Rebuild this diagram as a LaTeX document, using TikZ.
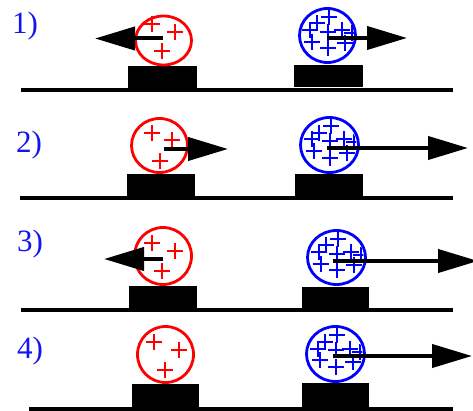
\documentclass[tikz,border=0pt]{standalone}
\usepackage{fontspec}
\setmainfont{Liberation Serif}
\usetikzlibrary{arrows.meta,shapes.geometric}
\definecolor{lblblue}{RGB}{20,20,240}
\tikzset{
  lbl/.style={text=lblblue, font=\fontsize{31}{31}\selectfont, inner sep=0pt},
  posball/.style={draw=red, line width=2.8pt, ellipse, inner sep=0pt},
  negball/.style={draw=blue, line width=2.8pt, ellipse, inner sep=0pt},
  stand/.style={fill=black, draw=none, rectangle, inner sep=0pt},
  ground/.style={line width=3.5pt},
  push/.style={line width=4pt, -{Triangle[length=40pt,width=23pt]}},
  rplus/.pic={\draw[red, line width=2pt] (-8,0)--(8,0) (0,-8)--(0,8);},
  bcharges/.pic={
    \begin{scope}
      \clip (0,0) circle (27);
      \foreach \a/\b in {1.8/-18.8, -10.8/-12.2, -17.5/-5.5, 14.2/-5.5, 0.8/-3.8, -15.8/6.2, 0.8/12.8, 17.5/7.8, 24.5/-2.5}
        \draw[blue, line width=2pt] (\a-8,\b)--(\a+8,\b) (\a,\b-8)--(\a,\b+8);
    \end{scope}
  }
}
\begin{document}
\begin{tikzpicture}[x=1pt,y=-1pt]
\useasboundingbox (0,0) rectangle (473,411);

% ---------- labels ----------
\node[lbl] (L1) at (25,26) {1)};
\node[lbl] (L2) at (29,145) {2)};
\node[lbl] (L3) at (30,244) {3)};
\node[lbl] (L4) at (30,351) {4)};

% ---------- ground lines ----------
\coordinate (g1a) at (21,90);  \coordinate (g1b) at (453,90);
\coordinate (g2a) at (20,198); \coordinate (g2b) at (453,198);
\coordinate (g3a) at (21,310); \coordinate (g3b) at (453,310);
\coordinate (g4a) at (29,409); \coordinate (g4b) at (453,409);
\draw[ground] (g1a) -- (g1b);
\draw[ground] (g2a) -- (g2b);
\draw[ground] (g3a) -- (g3b);
\draw[ground] (g4a) -- (g4b);

% ---------- stands ----------
\node[stand, minimum width=69pt, minimum height=22pt] (S1r) at (162.5,77) {};
\node[stand, minimum width=69pt, minimum height=22pt] (S1b) at (328.5,76.5) {};
\node[stand, minimum width=68pt, minimum height=23pt] (S2r) at (161,185.5) {};
\node[stand, minimum width=68pt, minimum height=23pt] (S2b) at (329,185.5) {};
\node[stand, minimum width=68pt, minimum height=23pt] (S3r) at (163,297) {};
\node[stand, minimum width=67pt, minimum height=22pt] (S3b) at (335.5,298) {};
\node[stand, minimum width=67pt, minimum height=23pt] (S4r) at (165.5,395.5) {};
\node[stand, minimum width=67pt, minimum height=24pt] (S4b) at (335.5,395) {};

% ---------- balls ----------
\node[posball, minimum width=56pt, minimum height=49pt] (R1) at (163.5,40.5) {};
\node[negball, minimum width=56pt, minimum height=54pt] (B1) at (327.5,35.5) {};
\node[posball, minimum width=56pt, minimum height=54pt] (R2) at (159.5,145.5) {};
\node[negball, minimum width=58pt, minimum height=55pt] (B2) at (329.5,145) {};
\node[posball, minimum width=57pt, minimum height=57pt] (R3) at (163,256) {};
\node[negball, minimum width=58pt, minimum height=54pt] (B3) at (336.5,257.5) {};
\node[posball, minimum width=56pt, minimum height=56pt] (R4) at (165.5,354.5) {};
\node[negball, minimum width=58pt, minimum height=55pt] (B4) at (335.5,354) {};

% ---------- charges ----------
\pic at (152,24) {rplus}; \pic at (175,32) {rplus}; \pic at (162,51) {rplus};
\pic at (152,133) {rplus}; \pic at (172,140) {rplus}; \pic at (160,161) {rplus};
\pic at (152,243) {rplus}; \pic at (175,251) {rplus}; \pic at (162,271) {rplus};
\pic at (154,342) {rplus}; \pic at (179,350) {rplus}; \pic at (165,370) {rplus};
\pic at (B1.center) {bcharges};
\pic at (B2.center) {bcharges};
\pic at (B3.center) {bcharges};
\pic at (B4.center) {bcharges};

% ---------- force arrows ----------
\coordinate (a1r0) at (163,38.5);  \coordinate (a1r) at (95,38.5);
\coordinate (a1b0) at (327,38);    \coordinate (a1b) at (407,38);
\coordinate (a2r0) at (164,149);   \coordinate (a2r) at (228,149);
\coordinate (a2b0) at (327,148);   \coordinate (a2b) at (468,148);
\coordinate (a3r0) at (163,259);   \coordinate (a3r) at (104,259);
\coordinate (a3b0) at (333,261);   \coordinate (a3b) at (478,261);
\coordinate (a4b0) at (333,356);   \coordinate (a4b) at (472,356);
\draw[push] (a1r0) -- (a1r);
\draw[push] (a1b0) -- (a1b);
\draw[push] (a2r0) -- (a2r);
\draw[push] (a2b0) -- (a2b);
\draw[push] (a3r0) -- (a3r);
\draw[push] (a3b0) -- (a3b);
\draw[push] (a4b0) -- (a4b);
\end{tikzpicture}
\end{document}
